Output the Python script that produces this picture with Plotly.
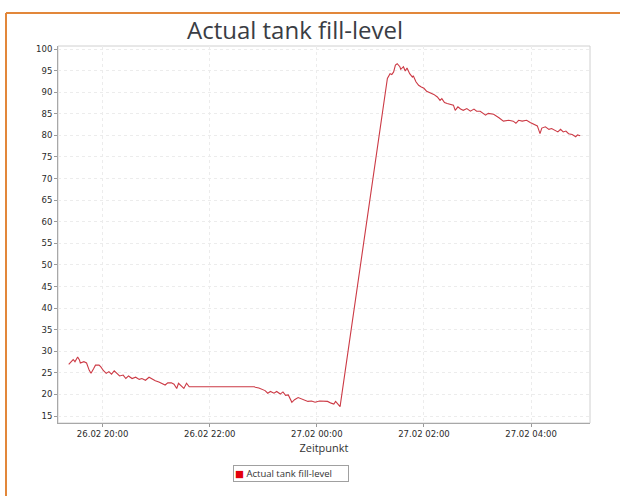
import plotly.graph_objects as go

# ---- data ----
times_a = ["26 19:22","26 19:25","26 19:27","26 19:29","26 19:32","26 19:34","26 19:35","26 19:39",
           "26 19:42","26 19:45","26 19:47","26 19:50","26 19:52","26 19:56","26 19:58","26 20:01",
           "26 20:04","26 20:07","26 20:10","26 20:13","26 20:16","26 20:19","26 20:23","26 20:26",
           "26 20:29","26 20:33","26 20:37","26 20:41","26 20:44","26 20:48","26 20:52","26 20:56",
           "26 20:59","26 21:03","26 21:07","26 21:10","26 21:13","26 21:17","26 21:20","26 21:23",
           "26 21:25","26 21:28","26 21:31","26 21:34","26 21:37"]
level_a = [27.0,27.6,28.1,27.6,28.7,28.0,27.3,27.6,
           27.3,25.6,24.9,26.0,26.8,26.8,26.4,25.5,
           24.9,25.3,24.7,25.5,25.0,24.3,24.5,23.7,
           24.3,23.7,24.0,23.5,23.7,23.3,24.0,23.5,
           23.2,22.9,22.6,22.2,22.7,22.7,22.4,21.4,
           22.6,21.9,21.4,22.6,21.8]

times_b = ["26 22:50","26 22:51","26 22:55","26 22:59","26 23:02","26 23:05","26 23:08","26 23:12",
           "26 23:15","26 23:19","26 23:22","26 23:25","26 23:28","26 23:32","26 23:35","26 23:39",
           "26 23:43","26 23:46","26 23:50","26 23:54","26 23:58","27 00:03","27 00:07","27 00:12",
           "27 00:16","27 00:19","27 00:21","27 00:24","27 00:26"]
level_b = [21.8,21.7,21.5,21.1,20.9,20.3,20.7,20.3,
           20.7,20.1,20.6,19.8,19.9,18.2,18.8,19.3,
           19.0,18.8,18.4,18.5,18.2,18.5,18.4,18.4,
           18.0,17.8,18.4,17.6,17.2]

times_c = ["27 01:19","27 01:22","27 01:24","27 01:26","27 01:28","27 01:30","27 01:33","27 01:34",
           "27 01:37","27 01:39","27 01:41","27 01:44","27 01:47","27 01:48","27 01:51","27 01:54",
           "27 01:57","27 02:00","27 02:03","27 02:07","27 02:11","27 02:15","27 02:18","27 02:20",
           "27 02:23","27 02:26","27 02:30","27 02:33","27 02:35","27 02:38","27 02:41","27 02:44",
           "27 02:48","27 02:52","27 02:56","27 02:59","27 03:03","27 03:09","27 03:12","27 03:18",
           "27 03:24","27 03:29","27 03:35","27 03:40","27 03:43","27 03:46","27 03:50","27 03:55",
           "27 03:59","27 04:03","27 04:07","27 04:10","27 04:12","27 04:16","27 04:20","27 04:23",
           "27 04:27","27 04:30","27 04:33","27 04:36","27 04:39","27 04:42","27 04:46","27 04:50",
           "27 04:52","27 04:55"]
level_c = [93.2,94.3,94.1,94.7,96.3,96.6,95.9,95.3,
           95.9,94.9,95.6,94.3,93.5,93.8,92.4,91.6,
           91.2,90.9,90.2,89.9,89.5,88.9,88.1,88.5,
           87.6,87.4,87.2,87.0,85.8,86.6,86.1,85.8,
           86.2,85.6,86.1,85.6,85.6,84.7,85.1,84.9,
           84.1,83.3,83.5,83.3,82.8,83.5,83.3,83.5,
           83.0,82.5,82.2,80.4,81.7,82.0,81.4,81.6,
           81.2,80.8,81.4,80.8,81.0,80.4,80.2,79.7,
           80.1,79.9]

tick_times = ["26 20:00", "26 22:00", "27 00:00", "27 02:00", "27 04:00"]
tick_labels = ["26.02 20:00", "26.02 22:00", "27.02 00:00", "27.02 02:00", "27.02 04:00"]
y_ticks = list(range(15, 101, 5))
x_range = ["26 19:10", "27 05:06"]
y_range = [13.4, 100.7]

series_name = "Actual tank fill-level"
title_text = "Actual tank fill-level"
x_title = "Zeitpunkt"


def to_dt(s):
    d, t = s.split()
    return f"2014-02-{d} {t}"


times = [to_dt(t) for t in times_a + times_b + times_c]
levels = level_a + level_b + level_c

W, H = 620, 496
L, R, T, B = 58, 30, 46, 73
pw, ph = W - L - R, H - T - B


def px(xp):
    return (xp - L) / pw


def py(yp):
    return (H - B - yp) / ph


fig = go.Figure()
fig.add_trace(go.Scatter(x=times, y=levels, mode="lines", name=series_name,
                         line=dict(color="#cc3a45", width=1.1),
                         showlegend=False))

orange = "#e2873a"
fig.add_shape(type="line", xref="paper", yref="paper",
              x0=px(6), x1=px(622), y0=py(13), y1=py(13),
              line=dict(color=orange, width=2))
fig.add_shape(type="line", xref="paper", yref="paper",
              x0=px(6), x1=px(6), y0=py(13), y1=py(498),
              line=dict(color=orange, width=2))

# legend box (drawn as annotation so the swatch sits next to the text)
fig.add_annotation(
    xref="paper", yref="paper", x=px(290.5), y=py(473.5),
    xanchor="center", yanchor="middle", showarrow=False,
    text="<span style='color:#e3000b;font-family:DejaVu Sans'>■</span> " + series_name,
    font=dict(family="Open Sans, sans-serif", size=9.5, color="#333"),
    bordercolor="#a0a0a0", borderwidth=1, borderpad=1, bgcolor="white",
    width=112, align="left",
)

fig.update_layout(
    width=W, height=H,
    margin=dict(l=L, r=R, t=T, b=B),
    paper_bgcolor="white", plot_bgcolor="white",
    font=dict(family="DejaVu Sans, sans-serif", color="#444"),
    title=dict(text=title_text, x=295 / W, xref="container", xanchor="center",
               y=1 - 31 / H, yref="container", yanchor="middle",
               font=dict(family="Open Sans, sans-serif", size=24, color="#3a3d44")),
    showlegend=False,
    xaxis=dict(range=[to_dt(x_range[0]), to_dt(x_range[1])],
               tickvals=[to_dt(t) for t in tick_times], ticktext=tick_labels,
               ticks="outside", ticklen=3, tickcolor="#999",
               tickfont=dict(family="DejaVu Sans, sans-serif", size=8.5, color="#2a2a2a"),
               showline=True, linecolor="#a8a8a8", linewidth=1, mirror=False,
               showgrid=True, gridcolor="#ececec", griddash="dot", gridwidth=1,
               zeroline=False,
               title=dict(text=x_title, font=dict(family="Open Sans, sans-serif", size=11, color="#333"),
                          standoff=6)),
    yaxis=dict(range=y_range, tickvals=y_ticks,
               ticks="outside", ticklen=3, tickcolor="#999",
               tickfont=dict(family="DejaVu Sans, sans-serif", size=8.5, color="#2a2a2a"),
               showline=True, linecolor="#a8a8a8", linewidth=1,
               showgrid=True, gridcolor="#ececec", griddash="dot", gridwidth=1,
               zeroline=False),
)
# light frame on top/right of plot area
fig.add_shape(type="rect", xref="paper", yref="paper", x0=0, x1=1, y0=0, y1=1,
              line=dict(color="#d0d0d0", width=1), layer="below")

fig.write_html("out.html", config={"displayModeBar": False},
               post_script="document.body.style.margin='0';document.body.style.overflow='hidden';")
